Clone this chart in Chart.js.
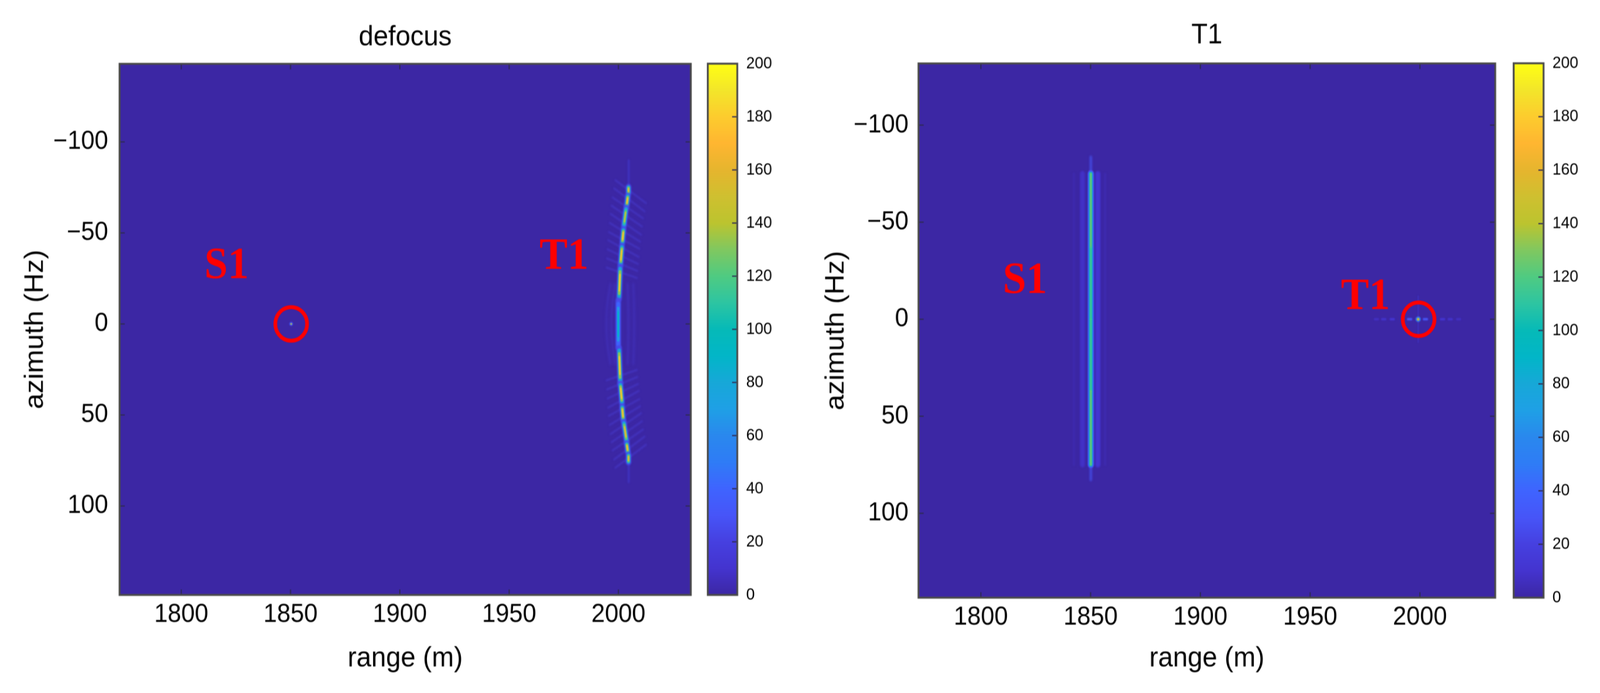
<!DOCTYPE html>
<html>
<head>
<meta charset="utf-8">
<script src="https://cdn.jsdelivr.net/npm/chart.js@4/dist/chart.umd.min.js"></script>
<style>
  html, body { margin: 0; padding: 0; background: #fff; overflow: hidden; }
  #page { position: relative; width: 4336px; height: 1774px; overflow: hidden; transform-origin: 0 0; }
  canvas { position: absolute; top: 0; filter: blur(0.8px); }
</style>
</head>
<body>
<div id="page">
  <canvas id="defocusPlot" width="1892" height="1774" style="left:0"></canvas>
  <canvas id="defocusBar" width="240" height="1774" style="left:1900px"></canvas>
  <canvas id="t1Plot" width="1872" height="1774" style="left:2200px"></canvas>
  <canvas id="t1Bar" width="240" height="1774" style="left:4084px"></canvas>
</div>
<script>
// the window can be narrower than the 4336 px layout, squeeze so nothing is cut
document.getElementById('page').style.transform = 'scaleX(' + Math.min(1, window.innerWidth / 4336) + ')';

// tick labels
const rangeTicks = [1800, 1850, 1900, 1950, 2000];
const azimuthTicks = [-100, -50, 0, 50, 100];
const barTicks = [0, 20, 40, 60, 80, 100, 120, 140, 160, 180, 200];
const barExtent = [0, 200];

// defocus panel: focused S1 point
const s1Range = [1850.3];
const s1Azimuth = [0];

// defocus panel: T1 curve, one entry per bright blob
const blobAzFrom =    [-75.1, -70.2, -63.4, -51.7, -42.4, -30.7, -11.6, 14.2, 33.3, 45.7, 54.3, 65.9, 72.1];
const blobAzTo =      [-72.0, -65.2, -54.1, -44.9, -33.2, -14.7, 11.8, 31.5, 43.1, 52.4, 64.2, 70.2, 75.8];
const blobRangeFrom = [2004.6, 2004.3, 2003.5, 2002.3, 2001.6, 2000.8, 1999.9, 2000.3, 2000.9, 2001.7, 2002.5, 2003.8, 2004.6];
const blobRangeTo =   [2004.6, 2003.8, 2002.5, 2001.8, 2001.0, 2000.3, 1999.9, 2000.8, 2001.6, 2002.2, 2003.7, 2004.3, 2004.6];
const blobPeak =      [165, 172, 150, 176, 176, 176, 90, 176, 176, 176, 165, 172, 165];

// defocus panel: side lobes crossing the curve (upper half, lower half is the mirror)
const rippleAz =    [-73.5, -69, -64.5, -60, -55.5, -51, -46.5, -42, -37.5, -33, -28.5];
const rippleRange = [2004.6, 2004.0, 2003.3, 2002.8, 2002.4, 2002.0, 2001.6, 2001.3, 2001.0, 2000.7, 2000.5];
const rippleTilt =  [5.5, 5.5, 5, 5, 5, 4.5, 4, 4, 3.5, 3, 2.5];

// defocus panel: faint arcs beside the middle of the curve
const arcAzimuth = [-22, -11, 0, 11, 22];
const arcRanges = [
  [1998.4, 1997.2, 1996.7, 1997.2, 1998.4],
  [1996.4, 1995.0, 1994.5, 1995.0, 1996.4],
  [2004.2, 2004.5, 2004.6, 2004.5, 2004.2],
  [2006.8, 2007.1, 2007.2, 2007.1, 2006.8]
];
const tailRange = [2004.7];
const tailAzimuth = [-90, -75, 75, 87];

// T1 panel: defocused S1 line and its side lobes
const lineRange = [1850.1];
const lineAzimuth = [-75, -37, 0, 37, 75];
const lineTail = [-83.6, 82.8];
const lineLevels = [135, 116, 114, 116, 135];
const lineLobeRange = [1842.4, 1846.3, 1853.3, 1856.6];
const lineLobeValue = [3, 8, 11, 3];

// T1 panel: focused T1 point and its lobes
const t1Range = [1999.2];
const t1Azimuth = [0];
const t1LobeRange = [1980.2, 1983.5, 1987.4, 1995.3, 2002.5, 2010.3, 2013.8, 2017.6];
const t1LobeValue = [7, 9, 11, 30, 30, 11, 9, 7];

// annotations
const defocusNotes = { text: ['S1', 'T1'], range: [1810.6, 1963.9], azimuth: [-25.1, -30.3] };
const t1Notes = { text: ['S1', 'T1'], range: [1810, 1964], azimuth: [-13.5, -5.2] };

// colormap
const colorStops = [
  [0, '#3c27a4'], [10, '#4434cf'], [20, '#4640e0'], [30, '#4755f8'], [40, '#3f64ff'],
  [50, '#2f7cf6'], [60, '#2a88ee'], [70, '#1fa0e6'], [80, '#17a8d8'], [90, '#02b6c8'],
  [100, '#06bab8'], [110, '#2dc5a2'], [120, '#4fcb82'], [130, '#80c860'], [140, '#bcc42f'],
  [150, '#cfc030'], [160, '#e6b52e'], [170, '#ffb631'], [180, '#fdcc2e'], [190, '#f3e62a'], [200, '#ffff14']
];

function hexToRgb(h) {
  return [1, 3, 5].map(i => parseInt(h.substr(i, 2), 16));
}

function valueColor(v) {
  const clamped = Math.max(0, Math.min(200, v));
  const i = Math.min(colorStops.length - 2, Math.floor(clamped / 10));
  const t = (clamped - colorStops[i][0]) / 10;
  const a = hexToRgb(colorStops[i][1]);
  const b = hexToRgb(colorStops[i + 1][1]);
  return 'rgb(' + a.map((c, k) => Math.round(c + (b[k] - c) * t)).join(',') + ')';
}

// dataset helpers
function lineSet(points, color, width, blur, tension) {
  return {
    type: 'scatter', showLine: true, data: points, borderColor: color, borderWidth: width,
    pointRadius: 0, borderCapStyle: 'round', tension: tension || 0, blur: blur
  };
}

function dotSet(points, color, radius, blur) {
  return {
    type: 'scatter', data: points, backgroundColor: color, borderWidth: 0,
    pointRadius: radius, blur: blur
  };
}

function ringSet(x, y) {
  return {
    type: 'scatter', data: [{ x: x, y: y }], backgroundColor: 'transparent',
    borderColor: '#ff0000', borderWidth: 10, pointRadius: 43
  };
}

function blobLayer(i, shrink, value, width, blur) {
  const len = blobAzTo[i] - blobAzFrom[i];
  const dr = blobRangeTo[i] - blobRangeFrom[i];
  return lineSet([
    { x: blobRangeFrom[i] + dr * shrink, y: blobAzFrom[i] + len * shrink },
    { x: blobRangeTo[i] - dr * shrink, y: blobAzTo[i] - len * shrink }
  ], valueColor(value), width, blur);
}

function defocusDatasets() {
  const sets = [];
  rippleAz.forEach((az, i) => {
    [1, -1].forEach(side => {
      const a = az * side;
      const t = rippleTilt[i] * side;
      sets.push(lineSet([
        { x: rippleRange[i] - 6, y: a - t },
        { x: rippleRange[i] + 8, y: a + t * 1.3 }
      ], 'rgba(72,62,214,0.55)', 5, 2));
    });
  });
  arcRanges.forEach(ranges => {
    sets.push(lineSet(ranges.map((r, k) => ({ x: r, y: arcAzimuth[k] })), 'rgba(72,62,214,0.4)', 6, 3, 0.4));
  });
  // vertical tails past both ends of the curve
  sets.push(lineSet([{ x: tailRange[0], y: tailAzimuth[0] }, { x: tailRange[0], y: tailAzimuth[1] }], 'rgba(70,64,224,0.55)', 5, 2));
  sets.push(lineSet([{ x: tailRange[0], y: tailAzimuth[2] }, { x: tailRange[0], y: tailAzimuth[3] }], 'rgba(70,64,224,0.55)', 5, 2));
  blobPeak.forEach((peak, i) => {
    sets.push(blobLayer(i, -0.05, 25, 15, 2));
    sets.push(blobLayer(i, 0.02, peak * 0.45, 10, 1.5));
    sets.push(blobLayer(i, 0.12, peak * 0.75, 7, 1));
    sets.push(blobLayer(i, 0.22, peak, 4, 1));
  });
  const s1 = s1Range.map((x, i) => ({ x: x, y: s1Azimuth[i] }));
  sets.push(dotSet(s1, valueColor(32), 5, 1.5));
  sets.push(dotSet(s1, '#9aae70', 2.5, 0.6));
  sets.push(ringSet(s1Range[0], s1Azimuth[0]));
  return sets.reverse();
}

function t1Datasets() {
  const sets = [];
  lineLobeRange.forEach((r, i) => {
    sets.push(lineSet(lineAzimuth.map(a => ({ x: r, y: a })), valueColor(lineLobeValue[i]), i === 0 || i === 3 ? 6 : 14, 2));
  });
  const x = lineRange[0];
  sets.push(lineSet([{ x: x, y: lineTail[0] }, { x: x, y: lineTail[1] }], 'rgba(70,80,235,0.8)', 7, 2.5));
  const column = lineAzimuth.map(a => ({ x: x, y: a }));
  sets.push(lineSet(column, valueColor(35), 17, 1.5));
  sets.push(lineSet(column, valueColor(85), 10, 1.2));
  lineAzimuth.slice(1).forEach((a, i) => {
    sets.push(lineSet([{ x: x, y: lineAzimuth[i] }, { x: x, y: a }],
      valueColor((lineLevels[i] + lineLevels[i + 1]) / 2), 5, 0.8));
  });
  const lobes = t1LobeRange.map(r => ({ x: r, y: 0 }));
  sets.push({
    type: 'scatter', data: lobes, pointStyle: 'line', pointRadius: 7,
    pointBorderWidth: 6, pointBorderColor: t1LobeValue.map(valueColor), blur: 1.5
  });
  const t1 = t1Range.map((r, i) => ({ x: r, y: t1Azimuth[i] }));
  sets.push(lineSet([{ x: t1Range[0], y: -12 }, { x: t1Range[0], y: 12 }], 'rgba(70,64,224,0.5)', 3, 1.5));
  sets.push(dotSet(t1, valueColor(50), 7, 1.5));
  sets.push(dotSet(t1, valueColor(150), 3.5, 0.8));
  sets.push(ringSet(t1Range[0] + 0.2, t1Azimuth[0]));
  return sets.reverse();
}

// per dataset blur, the source picture is smooth
const blurPlugin = {
  id: 'blurLayer',
  beforeDatasetsDraw(chart) {
    const a = chart.chartArea;
    chart.ctx.fillStyle = colorStops[0][1];
    chart.ctx.fillRect(a.left, a.top, a.right - a.left, a.bottom - a.top);
  },
  beforeDatasetDraw(chart, args) {
    const blur = chart.data.datasets[args.index].blur;
    chart.ctx.save();
    if (blur) chart.ctx.filter = 'blur(' + blur + 'px)';
  },
  afterDatasetDraw(chart) {
    chart.ctx.restore();
  }
};

// MATLAB style box with ticks pointing inside
const framePlugin = {
  id: 'insideFrame',
  afterDraw(chart, args, opts) {
    const { ctx, chartArea: a, scales } = chart;
    ctx.save();
    ctx.strokeStyle = '#2e2a55';
    ctx.lineWidth = 3;
    ctx.beginPath();
    (opts.bothSides ? [a.top, a.bottom] : []).forEach((edge, k) => {
      scales.x.ticks.forEach(t => {
        const px = scales.x.getPixelForValue(t.value);
        ctx.moveTo(px, edge);
        ctx.lineTo(px, edge + (k ? -14 : 14));
      });
    });
    scales.y.ticks.forEach(t => {
      const py = scales.y.getPixelForValue(t.value);
      if (opts.bothSides) {
        ctx.moveTo(a.left, py);
        ctx.lineTo(a.left + 14, py);
      }
      ctx.moveTo(a.right, py);
      ctx.lineTo(a.right - 14, py);
    });
    ctx.stroke();
    ctx.strokeStyle = '#4a4a4a';
    ctx.lineWidth = 5;
    ctx.strokeRect(a.left, a.top, a.right - a.left, a.bottom - a.top);
    ctx.restore();
  }
};

// red S1 / T1 labels
const notesPlugin = {
  id: 'notes',
  afterDatasetsDraw(chart, args, opts) {
    const { ctx, scales } = chart;
    ctx.save();
    ctx.font = 'bold 114px "Liberation Serif"';
    ctx.fillStyle = '#ff0000';
    ctx.textBaseline = 'alphabetic';
    opts.text.forEach((t, i) => {
      ctx.fillText(t, scales.x.getPixelForValue(opts.range[i]), scales.y.getPixelForValue(opts.azimuth[i]));
    });
    ctx.restore();
  }
};

function heatChart(id, p) {
  return new Chart(document.getElementById(id), {
    type: 'scatter',
    data: { datasets: p.datasets },
    plugins: [blurPlugin, notesPlugin, framePlugin],
    options: {
      responsive: false,
      animation: false,
      devicePixelRatio: 1,
      layout: { autoPadding: false, padding: { right: 20 } },
      scales: {
        x: {
          type: 'linear',
          min: p.xMin,
          max: p.xMax,
          afterBuildTicks: s => { s.ticks = rangeTicks.map(v => ({ value: v })); },
          afterFit: s => { s.height = p.axisHeight; s.paddingLeft = 0; s.paddingRight = 0; },
          grid: { display: false, drawTicks: false },
          border: { display: false },
          ticks: { color: '#000', font: { family: 'Liberation Sans', size: 66 }, padding: 11, maxRotation: 0, autoSkip: false, callback: v => String(v) },
          title: { display: true, text: 'range (m)', color: '#000', font: { family: 'Liberation Sans', size: 72 }, padding: { top: 0, bottom: 45 } }
        },
        y: {
          type: 'linear',
          reverse: true,
          min: p.yMin,
          max: p.yMax,
          afterBuildTicks: s => { s.ticks = azimuthTicks.map(v => ({ value: v })); },
          afterFit: s => { s.width = p.axisWidth; s.paddingTop = 0; s.paddingBottom = 0; },
          grid: { display: false, drawTicks: false },
          border: { display: false },
          ticks: {
            color: '#000',
            font: { family: 'Liberation Sans', size: 66 },
            padding: p.yTickPad,
            autoSkip: false,
            callback: v => (v < 0 ? '\u2212' + (-v) : String(v))
          },
          title: { display: true, text: 'azimuth (Hz)', color: '#000', font: { family: 'Liberation Sans', size: 72 }, padding: { top: p.yTitleTop, bottom: 0 } }
        }
      },
      plugins: {
        legend: { display: false },
        tooltip: { enabled: false },
        title: {
          display: true,
          text: p.title,
          color: '#000',
          fullSize: false,
          font: { family: 'Liberation Sans', size: 72, weight: 'normal' },
          padding: { top: p.titleTop, bottom: p.titleBottom }
        },
        insideFrame: { bothSides: true },
        notes: p.notes
      }
    }
  });
}

function barChart(id, p) {
  return new Chart(document.getElementById(id), {
    type: 'bar',
    data: {
      labels: [''],
      datasets: [{
        data: [barExtent],
        barPercentage: 1,
        categoryPercentage: 1,
        borderSkipped: false,
        backgroundColor: ctx => {
          const a = ctx.chart.chartArea;
          if (!a) return colorStops[0][1];
          const g = ctx.chart.ctx.createLinearGradient(0, a.bottom, 0, a.top);
          colorStops.forEach(s => g.addColorStop(s[0] / 200, s[1]));
          return g;
        }
      }]
    },
    plugins: [framePlugin],
    options: {
      responsive: false,
      animation: false,
      devicePixelRatio: 1,
      layout: { padding: { left: p.left, top: p.top, bottom: 1774 - p.bottom } },
      scales: {
        x: { display: false },
        y: {
          position: 'right',
          min: 0,
          max: 200,
          afterBuildTicks: s => { s.ticks = barTicks.map(v => ({ value: v })); },
          afterFit: s => { s.width = 240 - p.left - p.barWidth; s.paddingTop = 0; s.paddingBottom = 0; },
          grid: { display: false, drawTicks: false },
          border: { display: false },
          ticks: { color: '#000', font: { family: 'Liberation Sans', size: 42 }, padding: 24, autoSkip: false }
        }
      },
      plugins: {
        legend: { display: false },
        tooltip: { enabled: false },
        insideFrame: { bothSides: false }
      }
    }
  });
}

heatChart('defocusPlot', {
  title: 'defocus', titleTop: 53, titleBottom: 24,
  xMin: 1771.8, xMax: 2033.1, yMin: -142.9, yMax: 148.9,
  axisHeight: 251, axisWidth: 324, yTitleTop: 53, yTickPad: 31,
  datasets: defocusDatasets(), notes: defocusNotes
});
barChart('defocusBar', { left: 18, top: 163, bottom: 1523, barWidth: 80 });

heatChart('t1Plot', {
  title: 'T1', titleTop: 48, titleBottom: 28,
  xMin: 1771.6, xMax: 2034.3, yMin: -131.8, yMax: 143.5,
  axisHeight: 244, axisWidth: 289, yTitleTop: 23, yTickPad: 27,
  datasets: t1Datasets(), notes: t1Notes
});
barChart('t1Bar', { left: 18, top: 162, bottom: 1530, barWidth: 81 });
</script>
</body>
</html>
